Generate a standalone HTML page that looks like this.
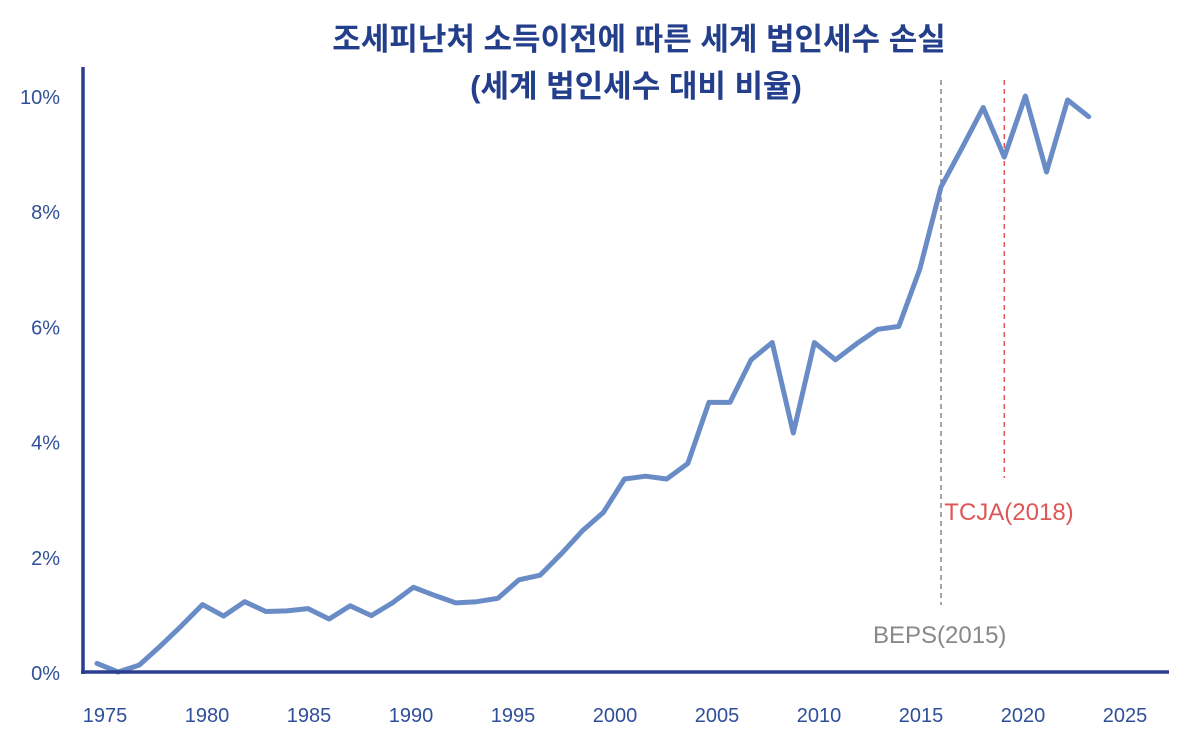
<!DOCTYPE html>
<html><head><meta charset="utf-8">
<style>
html,body{margin:0;padding:0;background:#fff;}
svg{display:block;font-family:"Liberation Sans","Noto Sans CJK KR",sans-serif;}
</style></head>
<body>
<svg id="chart" width="1200" height="739" viewBox="0 0 1200 739">
<text x="639" y="50" text-anchor="middle" font-size="31" font-weight="bold" fill="#233e8b">조세피난처 소득이전에 따른 세계 법인세수 손실</text>
<text x="636" y="97" text-anchor="middle" font-size="31" font-weight="bold" fill="#233e8b">(세계 법인세수 대비 비율)</text>
<g id="grid"></g>
<g id="marks"></g>
<line x1="83" y1="67" x2="83" y2="674" stroke="#2a3f8f" stroke-width="3.5"/>
<line x1="81" y1="672" x2="1169" y2="672" stroke="#2a3f8f" stroke-width="3.5"/>
</svg>
<script>
const years = [1975,1976,1977,1978,1979,1980,1981,1982,1983,1984,1985,1986,1987,1988,1989,1990,1991,1992,1993,1994,1995,1996,1997,1998,1999,2000,2001,2002,2003,2004,2005,2006,2007,2008,2009,2010,2011,2012,2013,2014,2015,2016,2017,2018,2019,2020,2021,2022];
const values = [0.15,0.0,0.12,0.45,0.8,1.17,0.97,1.22,1.05,1.06,1.1,0.92,1.15,0.98,1.2,1.47,1.33,1.2,1.22,1.28,1.6,1.68,2.05,2.45,2.77,3.35,3.4,3.35,3.62,4.68,4.68,5.42,5.72,4.15,5.72,5.42,5.7,5.95,6.0,7.0,8.42,9.1,9.8,8.94,10.0,8.68,9.93,9.64];
const yTicks = [0,2,4,6,8,10];
const yTickLabels = ["0%","2%","4%","6%","8%","10%"];
const xTicks = [1975,1980,1985,1990,1995,2000,2005,2010,2015,2020,2025];
const events = [2015,2018];
const eventLabels = ["BEPS(2015)","TCJA(2018)"];

const NS="http://www.w3.org/2000/svg";
const xs = yr => 97 + (yr-1975)*21.1;
const ys = v => 672 - v*57.6;
const xt = yr => 105 + (yr-1975)*20.4;
const marks=document.getElementById('marks');
const grid=document.getElementById('grid');
function mk(tag,attrs,parent){const e=document.createElementNS(NS,tag);for(const k in attrs)e.setAttribute(k,attrs[k]);parent.appendChild(e);return e;}

yTicks.forEach((t,i)=>{
  const el=mk('text',{x:60,y:ys(t)+8,'text-anchor':'end','font-size':20,fill:'#2f4f9a'},grid);
  
  
  el.textContent=yTickLabels[i];
});
xTicks.forEach(t=>{
  const el=mk('text',{x:xt(t),y:722,'text-anchor':'middle','font-size':20,fill:'#2f4f9a'},grid);
  
  
  el.textContent=String(t);
});
// event lines
const evCfg=[{color:'#888',y2:605,ly:643,lx:-68},{color:'#e05555',y2:478,ly:520,lx:-60}];
events.forEach((e,i)=>{
  const c=evCfg[i];
  const ln=mk('line',{x1:xs(e),x2:xs(e),y1:80,y2:c.y2,stroke:c.color,'stroke-width':1.5,'stroke-dasharray':'5,4'},grid);
  
  
  const tx=mk('text',{x:xs(e)+c.lx,y:c.ly,'font-size':24,fill:c.color},grid);
  
  
  tx.textContent=eventLabels[i];
});
const d=years.map((y,i)=>(i?'L':'M')+xs(y).toFixed(1)+','+ys(values[i]).toFixed(1)).join(' ');
const p=mk('path',{d:d,fill:'none',stroke:'#6a8cc6','stroke-width':5,'stroke-linejoin':'round','stroke-linecap':'round'},marks);


</script>
</body></html>
